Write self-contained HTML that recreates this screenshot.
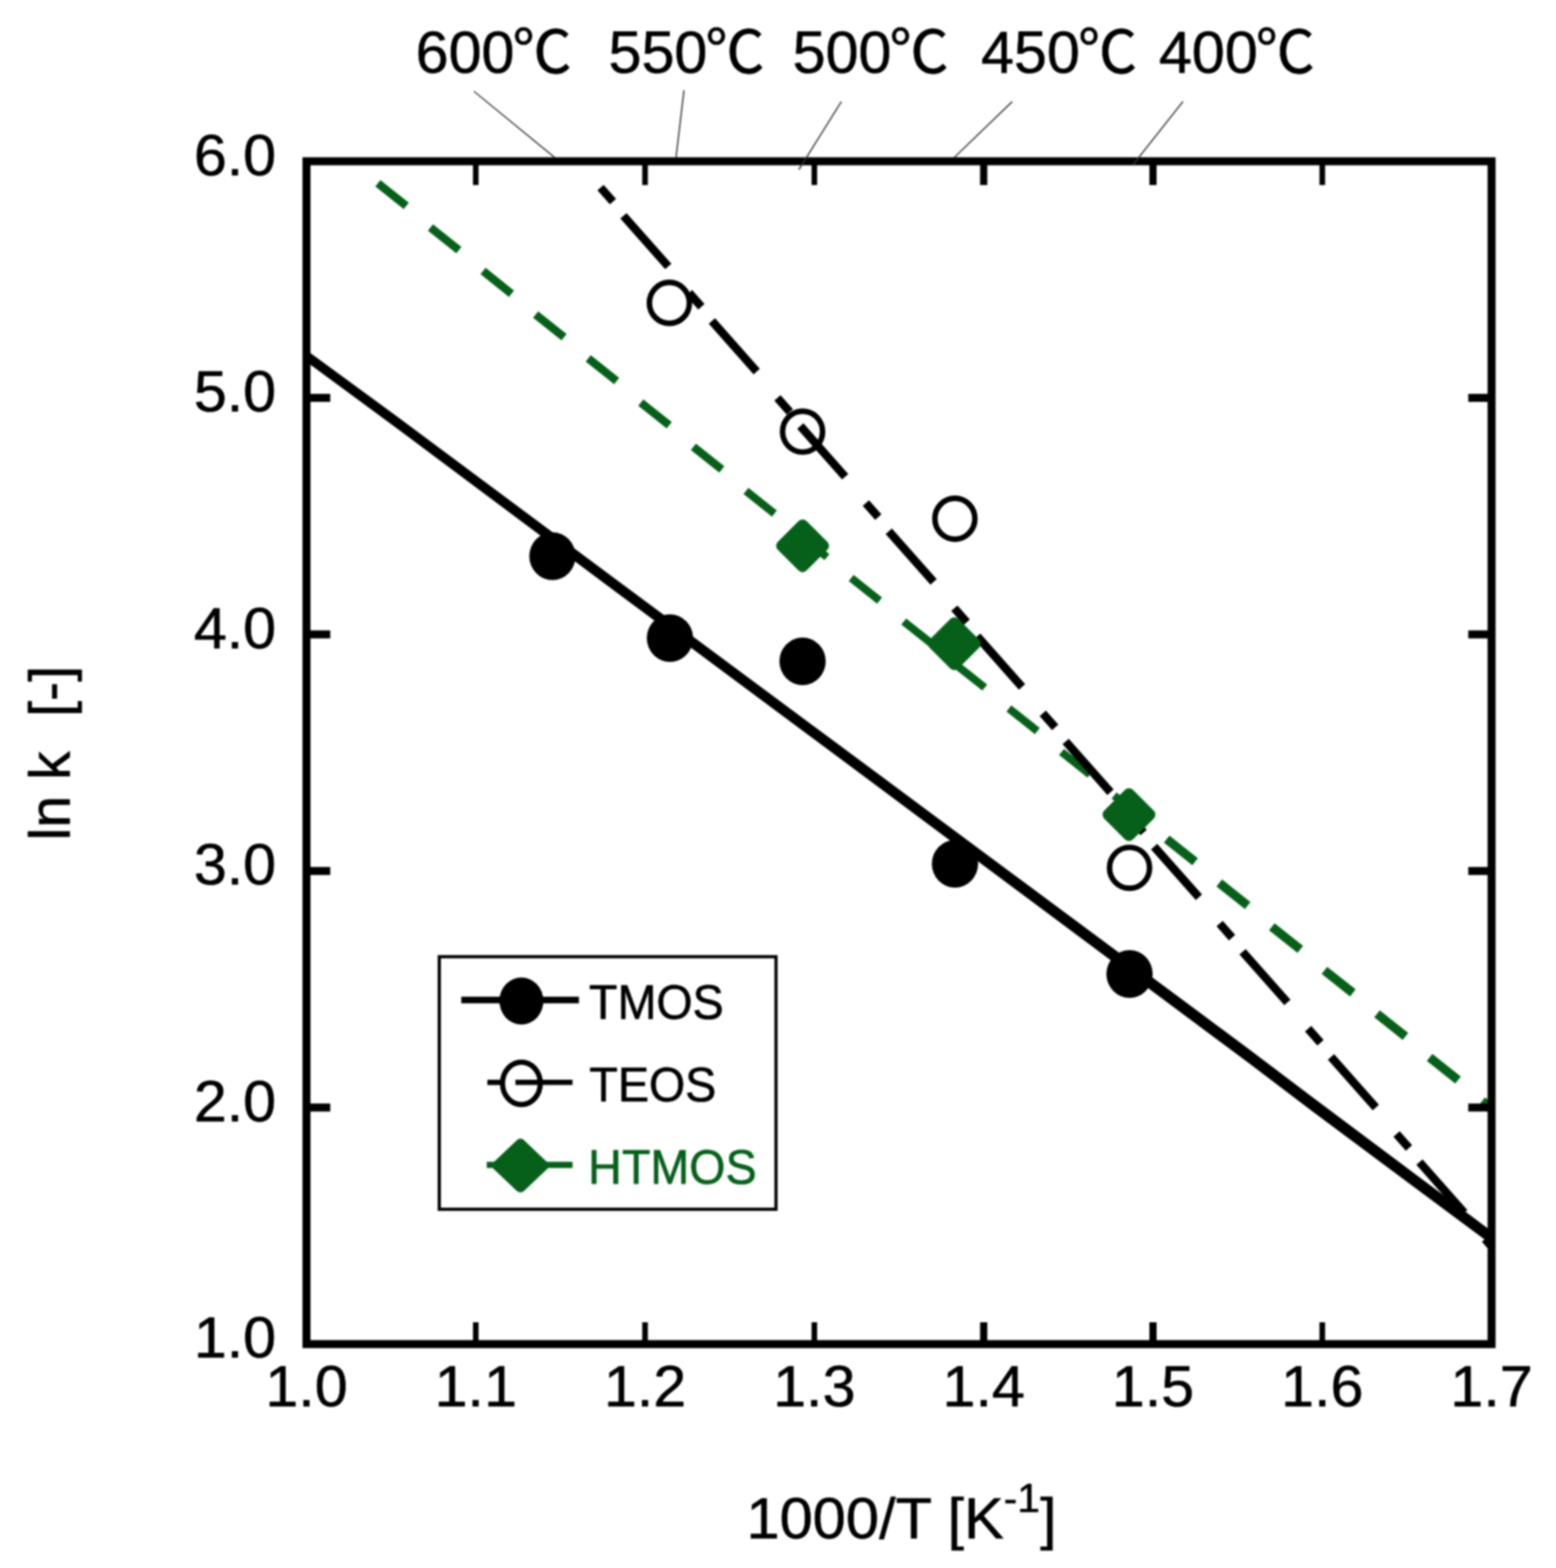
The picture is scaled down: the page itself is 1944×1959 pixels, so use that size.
<!DOCTYPE html>
<html lang="en"><head><meta charset="utf-8"><title>ln k vs 1000/T</title>
<style>html,body{margin:0;padding:0;background:#fff;}body{width:1944px;height:1959px;overflow:hidden;}svg{display:block;filter:blur(1px);}text{font-family:"Liberation Sans", "Noto Sans CJK JP", sans-serif;stroke-linejoin:round;}</style></head><body>
<svg width="1944" height="1959" viewBox="0 0 1944 1959">
<rect x="0" y="0" width="1944" height="1959" fill="#fff"/>
<polygon fill="#000" points="382.9,437.5 500.0,523.2 770.0,724.2 1100.0,969.1 1560.0,1310.4 1640.0,1371.0 1863.5,1538.2 1863.5,1555.1 1640.0,1388.7 1560.0,1328.1 1100.0,985.3 770.0,739.9 500.0,538.2 382.9,452.0"/>
<line x1="472.1" y1="229.0" x2="507.6" y2="257.3" stroke="#06601a" stroke-width="10.2" />
<line x1="537.8" y1="284.3" x2="573.3" y2="312.5" stroke="#06601a" stroke-width="10.2" />
<line x1="603.5" y1="338.6" x2="639.0" y2="366.9" stroke="#06601a" stroke-width="10.2" />
<line x1="669.2" y1="393.0" x2="704.7" y2="421.2" stroke="#06601a" stroke-width="10.2" />
<line x1="734.9" y1="447.8" x2="770.4" y2="476.0" stroke="#06601a" stroke-width="10.2" />
<line x1="800.6" y1="503.1" x2="836.1" y2="531.3" stroke="#06601a" stroke-width="10.2" />
<line x1="866.3" y1="558.3" x2="901.8" y2="586.5" stroke="#06601a" stroke-width="10.2" />
<line x1="932.0" y1="613.4" x2="967.5" y2="641.6" stroke="#06601a" stroke-width="9.8" />
<line x1="997.7" y1="667.7" x2="1033.2" y2="696.0" stroke="#06601a" stroke-width="9.8" />
<line x1="1063.4" y1="722.1" x2="1098.9" y2="750.3" stroke="#06601a" stroke-width="9.8" />
<line x1="1129.1" y1="776.5" x2="1164.6" y2="804.7" stroke="#06601a" stroke-width="9.8" />
<line x1="1194.8" y1="830.8" x2="1230.3" y2="859.0" stroke="#06601a" stroke-width="9.8" />
<line x1="1260.5" y1="885.2" x2="1296.0" y2="913.4" stroke="#06601a" stroke-width="9.8" />
<line x1="1326.2" y1="939.5" x2="1361.7" y2="967.7" stroke="#06601a" stroke-width="9.8" />
<line x1="1391.9" y1="993.9" x2="1427.4" y2="1022.1" stroke="#06601a" stroke-width="9.8" />
<line x1="1457.6" y1="1048.4" x2="1493.1" y2="1076.6" stroke="#06601a" stroke-width="11.2" />
<line x1="1523.3" y1="1103.2" x2="1558.8" y2="1131.4" stroke="#06601a" stroke-width="11.2" />
<line x1="1589.0" y1="1157.9" x2="1624.5" y2="1186.2" stroke="#06601a" stroke-width="11.2" />
<line x1="1654.7" y1="1212.3" x2="1690.2" y2="1240.5" stroke="#06601a" stroke-width="11.2" />
<line x1="1720.4" y1="1266.7" x2="1755.9" y2="1294.9" stroke="#06601a" stroke-width="11.2" />
<line x1="1786.1" y1="1321.1" x2="1821.6" y2="1349.3" stroke="#06601a" stroke-width="11.2" />
<line x1="1851.8" y1="1375.5" x2="1863.5" y2="1384.8" stroke="#06601a" stroke-width="11.2" />
<line x1="750.3" y1="234.4" x2="765.8" y2="251.9" stroke="#000" stroke-width="10.4" />
<line x1="778.9" y1="269.6" x2="834.9" y2="332.9" stroke="#000" stroke-width="10.4" />
<line x1="860.8" y1="365.8" x2="876.3" y2="383.3" stroke="#000" stroke-width="10.4" />
<line x1="889.4" y1="401.0" x2="945.4" y2="464.2" stroke="#000" stroke-width="10.4" />
<line x1="971.3" y1="497.1" x2="986.8" y2="514.6" stroke="#000" stroke-width="10.4" />
<line x1="999.9" y1="532.3" x2="1055.9" y2="595.6" stroke="#000" stroke-width="10.4" />
<line x1="1081.8" y1="628.5" x2="1097.3" y2="646.0" stroke="#000" stroke-width="10.4" />
<line x1="1110.4" y1="663.7" x2="1166.4" y2="727.0" stroke="#000" stroke-width="10.4" />
<line x1="1192.3" y1="759.9" x2="1207.8" y2="777.4" stroke="#000" stroke-width="10.4" />
<line x1="1220.9" y1="795.0" x2="1276.9" y2="858.3" stroke="#000" stroke-width="10.4" />
<line x1="1302.8" y1="891.2" x2="1318.3" y2="908.7" stroke="#000" stroke-width="10.4" />
<line x1="1331.4" y1="926.4" x2="1387.4" y2="989.7" stroke="#000" stroke-width="10.4" />
<line x1="1413.3" y1="1022.6" x2="1428.8" y2="1040.1" stroke="#000" stroke-width="10.4" />
<line x1="1441.9" y1="1057.8" x2="1497.9" y2="1121.0" stroke="#000" stroke-width="10.4" />
<line x1="1523.8" y1="1153.9" x2="1539.3" y2="1171.5" stroke="#000" stroke-width="10.4" />
<line x1="1552.4" y1="1189.1" x2="1608.4" y2="1252.4" stroke="#000" stroke-width="10.4" />
<line x1="1634.3" y1="1285.3" x2="1649.8" y2="1302.8" stroke="#000" stroke-width="10.4" />
<line x1="1662.9" y1="1320.5" x2="1718.9" y2="1383.8" stroke="#000" stroke-width="10.4" />
<line x1="1744.8" y1="1416.7" x2="1760.3" y2="1434.2" stroke="#000" stroke-width="10.4" />
<line x1="1773.4" y1="1451.9" x2="1829.4" y2="1515.1" stroke="#000" stroke-width="10.4" />
<line x1="1855.3" y1="1548.0" x2="1863.5" y2="1557.3" stroke="#000" stroke-width="10.4" />
<ellipse cx="690.2" cy="694.9" rx="28.9" ry="29.8" fill="#000"/>
<ellipse cx="837.0" cy="797.2" rx="28.9" ry="29.8" fill="#000"/>
<ellipse cx="1002.7" cy="826.2" rx="28.9" ry="29.8" fill="#000"/>
<ellipse cx="1193.1" cy="1079.2" rx="28.9" ry="29.8" fill="#000"/>
<ellipse cx="1411.2" cy="1216.9" rx="28.9" ry="29.8" fill="#000"/>
<ellipse cx="836.3" cy="378.4" rx="25.0" ry="25.6" fill="none" stroke="#000" stroke-width="6.9"/>
<ellipse cx="1002.7" cy="539.3" rx="25.0" ry="25.6" fill="none" stroke="#000" stroke-width="6.9"/>
<ellipse cx="1193.0" cy="648.1" rx="25.0" ry="25.6" fill="none" stroke="#000" stroke-width="6.9"/>
<ellipse cx="1411.2" cy="1084.2" rx="25.0" ry="25.6" fill="none" stroke="#000" stroke-width="6.9"/>
<rect x="977.3" y="656.5" width="50.8" height="50.8" rx="7.0" fill="#06601a" transform="rotate(45 1002.7 681.9)"/>
<rect x="1166.9" y="778.8" width="50.8" height="50.8" rx="7.0" fill="#06601a" transform="rotate(45 1192.3 804.2)"/>
<rect x="1385.1" y="992.4" width="50.8" height="50.8" rx="7.0" fill="#06601a" transform="rotate(45 1410.5 1017.8)"/>
<rect x="382.9" y="201.5" width="1480.6" height="1477.8" fill="none" stroke="#000" stroke-width="10"/>
<line x1="594.4" y1="201.5" x2="594.4" y2="231.2" stroke="#000" stroke-width="7.0" />
<line x1="594.4" y1="1679.3" x2="594.4" y2="1652.0" stroke="#000" stroke-width="7.0" />
<line x1="805.9" y1="201.5" x2="805.9" y2="231.2" stroke="#000" stroke-width="7.0" />
<line x1="805.9" y1="1679.3" x2="805.9" y2="1652.0" stroke="#000" stroke-width="7.0" />
<line x1="1017.4" y1="201.5" x2="1017.4" y2="231.2" stroke="#000" stroke-width="7.0" />
<line x1="1017.4" y1="1679.3" x2="1017.4" y2="1652.0" stroke="#000" stroke-width="7.0" />
<line x1="1229.0" y1="201.5" x2="1229.0" y2="231.2" stroke="#000" stroke-width="9.0" />
<line x1="1229.0" y1="1679.3" x2="1229.0" y2="1652.0" stroke="#000" stroke-width="9.0" />
<line x1="1440.5" y1="201.5" x2="1440.5" y2="231.2" stroke="#000" stroke-width="9.0" />
<line x1="1440.5" y1="1679.3" x2="1440.5" y2="1652.0" stroke="#000" stroke-width="9.0" />
<line x1="1652.0" y1="201.5" x2="1652.0" y2="231.2" stroke="#000" stroke-width="7.0" />
<line x1="1652.0" y1="1679.3" x2="1652.0" y2="1652.0" stroke="#000" stroke-width="7.0" />
<line x1="382.9" y1="497.1" x2="412.6" y2="497.1" stroke="#000" stroke-width="10.0" />
<line x1="1863.5" y1="497.1" x2="1834.4" y2="497.1" stroke="#000" stroke-width="10.0" />
<line x1="382.9" y1="792.6" x2="412.6" y2="792.6" stroke="#000" stroke-width="10.0" />
<line x1="1863.5" y1="792.6" x2="1834.4" y2="792.6" stroke="#000" stroke-width="10.0" />
<line x1="382.9" y1="1088.2" x2="412.6" y2="1088.2" stroke="#000" stroke-width="10.0" />
<line x1="1863.5" y1="1088.2" x2="1834.4" y2="1088.2" stroke="#000" stroke-width="10.0" />
<line x1="382.9" y1="1383.7" x2="412.6" y2="1383.7" stroke="#000" stroke-width="10.0" />
<line x1="1863.5" y1="1383.7" x2="1834.4" y2="1383.7" stroke="#000" stroke-width="10.0" />
<line x1="592.0" y1="114.0" x2="692.8" y2="196.6" stroke="#333" stroke-width="1.6" />
<line x1="854.6" y1="112.7" x2="844.6" y2="196.6" stroke="#333" stroke-width="1.6" />
<line x1="1051.2" y1="126.8" x2="998.0" y2="212.0" stroke="#333" stroke-width="1.6" />
<line x1="1264.7" y1="126.8" x2="1192.0" y2="197.0" stroke="#333" stroke-width="1.6" />
<line x1="1478.0" y1="126.8" x2="1415.0" y2="206.6" stroke="#333" stroke-width="1.6" />
<text transform="translate(519.3 90.8) scale(1 1.000)" font-size="74.0" text-anchor="start" fill="#000" stroke="#000" stroke-width="0.7" >600<tspan dx="-2.5">℃</tspan></text>
<text transform="translate(760.3 90.8) scale(1 1.000)" font-size="74.0" text-anchor="start" fill="#000" stroke="#000" stroke-width="0.7" >550<tspan dx="-2.5">℃</tspan></text>
<text transform="translate(990.3 90.8) scale(1 1.000)" font-size="74.0" text-anchor="start" fill="#000" stroke="#000" stroke-width="0.7" >500<tspan dx="-2.5">℃</tspan></text>
<text transform="translate(1225.7 90.8) scale(1 1.000)" font-size="74.0" text-anchor="start" fill="#000" stroke="#000" stroke-width="0.7" >450<tspan dx="-2.5">℃</tspan></text>
<text transform="translate(1447.9 90.8) scale(1 1.000)" font-size="74.0" text-anchor="start" fill="#000" stroke="#000" stroke-width="0.7" >400<tspan dx="-2.5">℃</tspan></text>
<text transform="translate(345.0 218.5) scale(1 0.975)" font-size="74.0" text-anchor="end" fill="#000" stroke="#000" stroke-width="0.7" >6.0</text>
<text transform="translate(345.0 514.1) scale(1 0.975)" font-size="74.0" text-anchor="end" fill="#000" stroke="#000" stroke-width="0.7" >5.0</text>
<text transform="translate(345.0 809.6) scale(1 0.975)" font-size="74.0" text-anchor="end" fill="#000" stroke="#000" stroke-width="0.7" >4.0</text>
<text transform="translate(345.0 1105.2) scale(1 0.975)" font-size="74.0" text-anchor="end" fill="#000" stroke="#000" stroke-width="0.7" >3.0</text>
<text transform="translate(345.0 1400.7) scale(1 0.975)" font-size="74.0" text-anchor="end" fill="#000" stroke="#000" stroke-width="0.7" >2.0</text>
<text transform="translate(345.0 1696.3) scale(1 0.975)" font-size="74.0" text-anchor="end" fill="#000" stroke="#000" stroke-width="0.7" >1.0</text>
<text transform="translate(382.9 1756.8) scale(1 0.975)" font-size="74.0" text-anchor="middle" fill="#000" stroke="#000" stroke-width="0.7" >1.0</text>
<text transform="translate(594.4 1756.8) scale(1 0.975)" font-size="74.0" text-anchor="middle" fill="#000" stroke="#000" stroke-width="0.7" >1.1</text>
<text transform="translate(805.9 1756.8) scale(1 0.975)" font-size="74.0" text-anchor="middle" fill="#000" stroke="#000" stroke-width="0.7" >1.2</text>
<text transform="translate(1017.4 1756.8) scale(1 0.975)" font-size="74.0" text-anchor="middle" fill="#000" stroke="#000" stroke-width="0.7" >1.3</text>
<text transform="translate(1229.0 1756.8) scale(1 0.975)" font-size="74.0" text-anchor="middle" fill="#000" stroke="#000" stroke-width="0.7" >1.4</text>
<text transform="translate(1440.5 1756.8) scale(1 0.975)" font-size="74.0" text-anchor="middle" fill="#000" stroke="#000" stroke-width="0.7" >1.5</text>
<text transform="translate(1652.0 1756.8) scale(1 0.975)" font-size="74.0" text-anchor="middle" fill="#000" stroke="#000" stroke-width="0.7" >1.6</text>
<text transform="translate(1863.5 1756.8) scale(1 0.975)" font-size="74.0" text-anchor="middle" fill="#000" stroke="#000" stroke-width="0.7" >1.7</text>
<text x="0" y="0" font-size="71.5" fill="#000" stroke="#000" stroke-width="0.8" transform="translate(86.6 1050) rotate(-90)" style="white-space:pre" xml:space="preserve">ln k  <tspan dx="3.5">[-]</tspan></text>
<text transform="translate(932.5 1921.6) scale(1 0.965)" font-size="74.5" text-anchor="start" fill="#000" stroke="#000" stroke-width="0.7" >1000/T [K<tspan font-size="51" dy="-34">-1</tspan><tspan dy="34">]</tspan></text>
<rect x="548.8" y="1195.3" width="420.7" height="315.5" fill="#fff" stroke="#000" stroke-width="4"/>
<line x1="576.3" y1="1249.4" x2="723.3" y2="1249.4" stroke="#000" stroke-width="8.4" />
<ellipse cx="651.4" cy="1250.6" rx="27.5" ry="29.4" fill="#000"/>
<line x1="608.9" y1="1352.3" x2="626.0" y2="1352.3" stroke="#000" stroke-width="6.6" />
<line x1="644.0" y1="1352.3" x2="715.3" y2="1352.3" stroke="#000" stroke-width="6.6" />
<ellipse cx="651.4" cy="1353.5" rx="23.6" ry="26.5" fill="none" stroke="#000" stroke-width="6.5"/>
<line x1="608.1" y1="1455.4" x2="715.3" y2="1455.4" stroke="#06601a" stroke-width="7.6" />
<rect x="-25.5" y="-25.5" width="51" height="51" rx="6" fill="#06601a" transform="translate(650.2 1456.2) scale(1.05 1) rotate(45)"/>
<text transform="translate(735.8 1272.7) scale(1 1.045)" font-size="58.3" text-anchor="start" fill="#000" stroke="#000" stroke-width="0.7" >TMOS</text>
<text transform="translate(736.3 1375.8) scale(1 1.045)" font-size="58.3" text-anchor="start" fill="#000" stroke="#000" stroke-width="0.7" >TEOS</text>
<text transform="translate(734.8 1479.2) scale(1 1.045)" font-size="58.3" text-anchor="start" fill="#06601a" stroke="#06601a" stroke-width="0.7" >HTMOS</text>
</svg></body></html>
